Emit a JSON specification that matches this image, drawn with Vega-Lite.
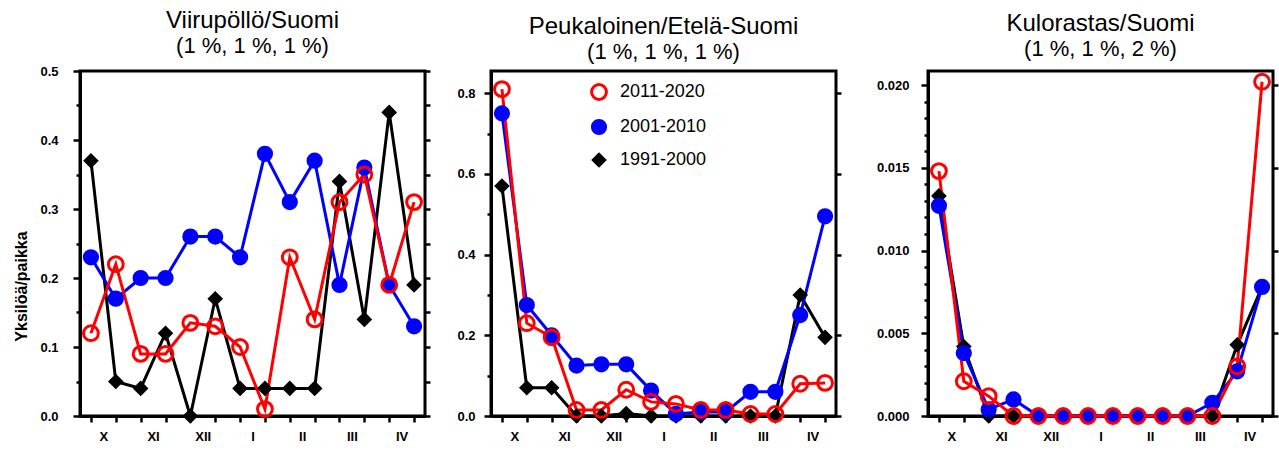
{
  "$schema": "https://vega.github.io/schema/vega-lite/v6.json",
  "padding": {"left": 12, "top": 7, "right": 0, "bottom": 0},
  "spacing": 30,
  "config": {
    "font": "Liberation Sans",
    "view": {"stroke": "black", "strokeWidth": 3},
    "axis": {"domainColor": "black", "domainWidth": 3, "tickColor": "black", "tickWidth": 2.5, "labelColor": "black", "labelFontWeight": "bold", "labelFontSize": 13, "grid": false, "titleColor": "black", "titleFontSize": 16, "titleFontWeight": "bold"},
    "title": {"fontSize": 24, "fontWeight": "normal", "subtitleFontSize": 22, "subtitleColor": "black", "color": "black", "anchor": "middle", "offset": 8, "subtitlePadding": 0, "subtitleFont": "Liberation Sans"}
  },
  "data": {"values": [
    {"p":"A","s":"1991-2000","x":1,"v":0.37},{"p":"A","s":"1991-2000","x":2,"v":0.05},{"p":"A","s":"1991-2000","x":3,"v":0.04},{"p":"A","s":"1991-2000","x":4,"v":0.12},{"p":"A","s":"1991-2000","x":5,"v":0.0},{"p":"A","s":"1991-2000","x":6,"v":0.17},{"p":"A","s":"1991-2000","x":7,"v":0.04},{"p":"A","s":"1991-2000","x":8,"v":0.04},{"p":"A","s":"1991-2000","x":9,"v":0.04},{"p":"A","s":"1991-2000","x":10,"v":0.04},{"p":"A","s":"1991-2000","x":11,"v":0.34},{"p":"A","s":"1991-2000","x":12,"v":0.14},{"p":"A","s":"1991-2000","x":13,"v":0.44},{"p":"A","s":"1991-2000","x":14,"v":0.19},
    {"p":"A","s":"2001-2010","x":1,"v":0.23},{"p":"A","s":"2001-2010","x":2,"v":0.17},{"p":"A","s":"2001-2010","x":3,"v":0.2},{"p":"A","s":"2001-2010","x":4,"v":0.2},{"p":"A","s":"2001-2010","x":5,"v":0.26},{"p":"A","s":"2001-2010","x":6,"v":0.26},{"p":"A","s":"2001-2010","x":7,"v":0.23},{"p":"A","s":"2001-2010","x":8,"v":0.38},{"p":"A","s":"2001-2010","x":9,"v":0.31},{"p":"A","s":"2001-2010","x":10,"v":0.37},{"p":"A","s":"2001-2010","x":11,"v":0.19},{"p":"A","s":"2001-2010","x":12,"v":0.36},{"p":"A","s":"2001-2010","x":13,"v":0.19},{"p":"A","s":"2001-2010","x":14,"v":0.13},
    {"p":"A","s":"2011-2020","x":1,"v":0.12},{"p":"A","s":"2011-2020","x":2,"v":0.22},{"p":"A","s":"2011-2020","x":3,"v":0.09},{"p":"A","s":"2011-2020","x":4,"v":0.09},{"p":"A","s":"2011-2020","x":5,"v":0.135},{"p":"A","s":"2011-2020","x":6,"v":0.13},{"p":"A","s":"2011-2020","x":7,"v":0.1},{"p":"A","s":"2011-2020","x":8,"v":0.01},{"p":"A","s":"2011-2020","x":9,"v":0.23},{"p":"A","s":"2011-2020","x":10,"v":0.14},{"p":"A","s":"2011-2020","x":11,"v":0.31},{"p":"A","s":"2011-2020","x":12,"v":0.35},{"p":"A","s":"2011-2020","x":13,"v":0.19},{"p":"A","s":"2011-2020","x":14,"v":0.31},
    {"p":"B","s":"1991-2000","x":1,"v":0.57},{"p":"B","s":"1991-2000","x":2,"v":0.07},{"p":"B","s":"1991-2000","x":3,"v":0.07},{"p":"B","s":"1991-2000","x":4,"v":0.0},{"p":"B","s":"1991-2000","x":5,"v":0.0},{"p":"B","s":"1991-2000","x":6,"v":0.006},{"p":"B","s":"1991-2000","x":7,"v":0.0},{"p":"B","s":"1991-2000","x":8,"v":0.0},{"p":"B","s":"1991-2000","x":9,"v":0.0},{"p":"B","s":"1991-2000","x":10,"v":0.0},{"p":"B","s":"1991-2000","x":11,"v":0.0},{"p":"B","s":"1991-2000","x":12,"v":0.0},{"p":"B","s":"1991-2000","x":13,"v":0.3},{"p":"B","s":"1991-2000","x":14,"v":0.195},
    {"p":"B","s":"2001-2010","x":1,"v":0.75},{"p":"B","s":"2001-2010","x":2,"v":0.275},{"p":"B","s":"2001-2010","x":3,"v":0.2},{"p":"B","s":"2001-2010","x":4,"v":0.125},{"p":"B","s":"2001-2010","x":5,"v":0.128},{"p":"B","s":"2001-2010","x":6,"v":0.128},{"p":"B","s":"2001-2010","x":7,"v":0.063},{"p":"B","s":"2001-2010","x":8,"v":0.005},{"p":"B","s":"2001-2010","x":9,"v":0.01},{"p":"B","s":"2001-2010","x":10,"v":0.01},{"p":"B","s":"2001-2010","x":11,"v":0.06},{"p":"B","s":"2001-2010","x":12,"v":0.06},{"p":"B","s":"2001-2010","x":13,"v":0.25},{"p":"B","s":"2001-2010","x":14,"v":0.495},
    {"p":"B","s":"2011-2020","x":1,"v":0.81},{"p":"B","s":"2011-2020","x":2,"v":0.23},{"p":"B","s":"2011-2020","x":3,"v":0.195},{"p":"B","s":"2011-2020","x":4,"v":0.015},{"p":"B","s":"2011-2020","x":5,"v":0.015},{"p":"B","s":"2011-2020","x":6,"v":0.065},{"p":"B","s":"2011-2020","x":7,"v":0.035},{"p":"B","s":"2011-2020","x":8,"v":0.03},{"p":"B","s":"2011-2020","x":9,"v":0.015},{"p":"B","s":"2011-2020","x":10,"v":0.015},{"p":"B","s":"2011-2020","x":11,"v":0.005},{"p":"B","s":"2011-2020","x":12,"v":0.005},{"p":"B","s":"2011-2020","x":13,"v":0.08},{"p":"B","s":"2011-2020","x":14,"v":0.082},
    {"p":"C","s":"1991-2000","x":1,"v":0.0133},{"p":"C","s":"1991-2000","x":2,"v":0.0042},{"p":"C","s":"1991-2000","x":3,"v":0.0},{"p":"C","s":"1991-2000","x":4,"v":0.0},{"p":"C","s":"1991-2000","x":5,"v":0.0},{"p":"C","s":"1991-2000","x":6,"v":0.0},{"p":"C","s":"1991-2000","x":7,"v":0.0},{"p":"C","s":"1991-2000","x":8,"v":0.0},{"p":"C","s":"1991-2000","x":9,"v":0.0},{"p":"C","s":"1991-2000","x":10,"v":0.0},{"p":"C","s":"1991-2000","x":11,"v":0.0},{"p":"C","s":"1991-2000","x":12,"v":0.0},{"p":"C","s":"1991-2000","x":13,"v":0.0043},{"p":"C","s":"1991-2000","x":14,"v":0.0078},
    {"p":"C","s":"2001-2010","x":1,"v":0.0127},{"p":"C","s":"2001-2010","x":2,"v":0.0038},{"p":"C","s":"2001-2010","x":3,"v":0.0004},{"p":"C","s":"2001-2010","x":4,"v":0.001},{"p":"C","s":"2001-2010","x":5,"v":0.0},{"p":"C","s":"2001-2010","x":6,"v":0.0},{"p":"C","s":"2001-2010","x":7,"v":0.0},{"p":"C","s":"2001-2010","x":8,"v":0.0},{"p":"C","s":"2001-2010","x":9,"v":0.0},{"p":"C","s":"2001-2010","x":10,"v":0.0},{"p":"C","s":"2001-2010","x":11,"v":0.0},{"p":"C","s":"2001-2010","x":12,"v":0.0008},{"p":"C","s":"2001-2010","x":13,"v":0.0027},{"p":"C","s":"2001-2010","x":14,"v":0.0078},
    {"p":"C","s":"2011-2020","x":1,"v":0.0148},{"p":"C","s":"2011-2020","x":2,"v":0.0021},{"p":"C","s":"2011-2020","x":3,"v":0.0012},{"p":"C","s":"2011-2020","x":4,"v":0.0},{"p":"C","s":"2011-2020","x":5,"v":0.0},{"p":"C","s":"2011-2020","x":6,"v":0.0},{"p":"C","s":"2011-2020","x":7,"v":0.0},{"p":"C","s":"2011-2020","x":8,"v":0.0},{"p":"C","s":"2011-2020","x":9,"v":0.0},{"p":"C","s":"2011-2020","x":10,"v":0.0},{"p":"C","s":"2011-2020","x":11,"v":0.0},{"p":"C","s":"2011-2020","x":12,"v":0.0},{"p":"C","s":"2011-2020","x":13,"v":0.003},{"p":"C","s":"2011-2020","x":14,"v":0.0202}
  ]},
  "resolve": {"scale": {"y": "independent", "stroke": "independent", "fill": "independent", "shape": "independent", "size": "independent"}},
  "hconcat": [
    {
      "spacing": 22,
      "resolve": {"scale": {"y": "independent", "stroke": "independent", "fill": "independent", "shape": "independent", "size": "independent"}},
      "hconcat": [
        {
          "width": 345, "height": 345,
          "title": {"text": "Viirupöllö/Suomi", "subtitle": "(1 %, 1 %, 1 %)"},
          "transform": [{"filter": "datum.p == 'A'"}],
          "encoding": {"x": {"field": "x", "type": "quantitative", "scale": {"domain": [0.56, 14.44], "nice": false, "zero": false}, "axis": {"title": null, "values": [1,2,3,4,5,6,7,8,9,10,11,12,13,14], "labelExpr": "['X','','XI','','XII','','I','','II','','III','','IV',''][datum.value-1]", "labelOffset": 12.4, "labelOverlap": false, "labelFontSize": 13, "tickSize": 6, "labelPadding": 8}}},
          "layer": [
            {"mark": {"type": "line", "strokeWidth": 3},
             "encoding": {
               "y": {"field": "v", "type": "quantitative", "scale": {"domain": [0, 0.5], "nice": false}, "axis": {"title": "Yksilöä/paikka", "titleFontSize": 16, "titleFontWeight": "bold", "titlePadding": 10, "titleY": 215, "labelPadding": 15, "values": [0,0.05,0.1,0.15,0.2,0.25,0.3,0.35,0.4,0.45,0.5], "labelExpr": "abs(datum.value*10-round(datum.value*10))<1e-6 ? format(datum.value,'.1f') : ''", "tickSize": {"condition": {"test": "abs(datum.value*10-round(datum.value*10))>1e-6", "value": 4}, "value": 7}}},
               "stroke": {"field": "s", "type": "ordinal", "scale": {"domain": ["2011-2020","2001-2010","1991-2000"], "range": ["#ff0000","#0000ff","#000000"]}, "legend": null}
             }},
            {"mark": {"type": "point", "strokeWidth": 3, "opacity": 1},
             "encoding": {
               "y": {"field": "v", "type": "quantitative", "axis": {"orient": "right", "title": null, "labels": false, "domain": false, "values": [0,0.05,0.1,0.15,0.2,0.25,0.3,0.35,0.4,0.45,0.5], "tickSize": 5}},
               "stroke": {"field": "s", "type": "ordinal", "scale": {"domain": ["2011-2020","2001-2010","1991-2000"], "range": ["#ff0000","#0000ff","#000000"]}, "legend": null},
               "fill": {"field": "s", "type": "ordinal", "scale": {"domain": ["2011-2020","2001-2010","1991-2000"], "range": ["transparent","#0000ff","#000000"]}, "legend": null},
               "shape": {"field": "s", "type": "ordinal", "scale": {"domain": ["2011-2020","2001-2010","1991-2000"], "range": ["circle","circle","diamond"]}, "legend": null},
               "size": {"field": "s", "type": "ordinal", "scale": {"domain": ["2011-2020","2001-2010","1991-2000"], "range": [220, 130, 45]}, "legend": null}
             }}
          ],
          "resolve": {"axis": {"y": "independent"}}
        },
        {
          "width": 345, "height": 345,
          "title": {"text": "Peukaloinen/Etelä-Suomi", "subtitle": "(1 %, 1 %, 1 %)"},
          "transform": [{"filter": "datum.p == 'B'"}],
          "encoding": {"x": {"field": "x", "type": "quantitative", "scale": {"domain": [0.56, 14.44], "nice": false, "zero": false}, "axis": {"title": null, "values": [1,2,3,4,5,6,7,8,9,10,11,12,13,14], "labelExpr": "['X','','XI','','XII','','I','','II','','III','','IV',''][datum.value-1]", "labelOffset": 12.4, "labelOverlap": false, "labelFontSize": 13, "tickSize": 6, "labelPadding": 8}}},
          "layer": [
            {"mark": {"type": "line", "strokeWidth": 3},
             "encoding": {
               "y": {"field": "v", "type": "quantitative", "scale": {"domain": [0, 0.855], "nice": false}, "axis": {"title": null, "labelPadding": 9, "values": [0,0.1,0.2,0.3,0.4,0.5,0.6,0.7,0.8], "labelExpr": "abs(datum.value*5-round(datum.value*5))<1e-6 ? format(datum.value,'.1f') : ''", "tickSize": {"condition": {"test": "abs(datum.value*5-round(datum.value*5))>1e-6", "value": 4}, "value": 7}}},
               "stroke": {"field": "s", "type": "ordinal", "scale": {"domain": ["2011-2020","2001-2010","1991-2000"], "range": ["#ff0000","#0000ff","#000000"]}, "legend": {"orient": "none", "legendX": 99, "legendY": 12, "title": null, "labelFontSize": 18, "labelFont": "Liberation Sans", "labelColor": "black", "symbolStrokeWidth": 3, "rowPadding": 8, "labelOffset": 12, "padding": 0}}
             }},
            {"mark": {"type": "point", "strokeWidth": 3, "opacity": 1},
             "encoding": {
               "y": {"field": "v", "type": "quantitative", "axis": {"orient": "right", "title": null, "labels": false, "domain": false, "values": [0,0.2,0.4,0.6,0.8], "tickSize": 5}},
               "stroke": {"field": "s", "type": "ordinal", "scale": {"domain": ["2011-2020","2001-2010","1991-2000"], "range": ["#ff0000","#0000ff","#000000"]}, "legend": {"orient": "none", "legendX": 99, "legendY": 12, "title": null, "labelFontSize": 18, "labelFont": "Liberation Sans", "labelColor": "black", "symbolStrokeWidth": 3, "rowPadding": 8, "labelOffset": 12, "padding": 0}},
               "fill": {"field": "s", "type": "ordinal", "scale": {"domain": ["2011-2020","2001-2010","1991-2000"], "range": ["transparent","#0000ff","#000000"]}, "legend": {"orient": "none", "legendX": 99, "legendY": 12, "title": null, "labelFontSize": 18, "labelFont": "Liberation Sans", "labelColor": "black", "symbolStrokeWidth": 3, "rowPadding": 8, "labelOffset": 12, "padding": 0}},
               "shape": {"field": "s", "type": "ordinal", "scale": {"domain": ["2011-2020","2001-2010","1991-2000"], "range": ["circle","circle","diamond"]}, "legend": {"orient": "none", "legendX": 99, "legendY": 12, "title": null, "labelFontSize": 18, "labelFont": "Liberation Sans", "labelColor": "black", "symbolStrokeWidth": 3, "rowPadding": 8, "labelOffset": 12, "padding": 0}},
               "size": {"field": "s", "type": "ordinal", "scale": {"domain": ["2011-2020","2001-2010","1991-2000"], "range": [220, 130, 45]}, "legend": {"orient": "none", "legendX": 99, "legendY": 12, "title": null, "labelFontSize": 18, "labelFont": "Liberation Sans", "labelColor": "black", "symbolStrokeWidth": 3, "rowPadding": 8, "labelOffset": 12, "padding": 0}}
             }}
          ],
          "resolve": {"axis": {"y": "independent"}}
        }
      ]
    },
    {
      "width": 345, "height": 345,
      "title": {"text": "Kulorastas/Suomi", "subtitle": "(1 %, 1 %, 2 %)"},
      "transform": [{"filter": "datum.p == 'C'"}],
      "encoding": {"x": {"field": "x", "type": "quantitative", "scale": {"domain": [0.56, 14.44], "nice": false, "zero": false}, "axis": {"title": null, "values": [1,2,3,4,5,6,7,8,9,10,11,12,13,14], "labelExpr": "['X','','XI','','XII','','I','','II','','III','','IV',''][datum.value-1]", "labelOffset": 12.4, "labelOverlap": false, "labelFontSize": 13, "tickSize": 6, "labelPadding": 8}}},
      "layer": [
        {"mark": {"type": "line", "strokeWidth": 3},
         "encoding": {
           "y": {"field": "v", "type": "quantitative", "scale": {"domain": [0, 0.02085], "nice": false}, "axis": {"title": null, "labelPadding": 12, "values": [0,0.001,0.002,0.003,0.004,0.005,0.006,0.007,0.008,0.009,0.01,0.011,0.012,0.013,0.014,0.015,0.016,0.017,0.018,0.019,0.02], "labelExpr": "abs(datum.value*200-round(datum.value*200))<1e-6 ? format(datum.value,'.3f') : ''", "tickSize": {"condition": {"test": "abs(datum.value*200-round(datum.value*200))>1e-6", "value": 4}, "value": 7}}},
           "stroke": {"field": "s", "type": "ordinal", "scale": {"domain": ["2011-2020","2001-2010","1991-2000"], "range": ["#ff0000","#0000ff","#000000"]}, "legend": null}
         }},
        {"mark": {"type": "point", "strokeWidth": 3, "opacity": 1},
         "encoding": {
           "y": {"field": "v", "type": "quantitative", "axis": {"orient": "right", "title": null, "labels": false, "domain": false, "values": [0,0.005,0.01,0.015,0.02], "tickSize": 5}},
           "stroke": {"field": "s", "type": "ordinal", "scale": {"domain": ["2011-2020","2001-2010","1991-2000"], "range": ["#ff0000","#0000ff","#000000"]}, "legend": null},
           "fill": {"field": "s", "type": "ordinal", "scale": {"domain": ["2011-2020","2001-2010","1991-2000"], "range": ["transparent","#0000ff","#000000"]}, "legend": null},
           "shape": {"field": "s", "type": "ordinal", "scale": {"domain": ["2011-2020","2001-2010","1991-2000"], "range": ["circle","circle","diamond"]}, "legend": null},
           "size": {"field": "s", "type": "ordinal", "scale": {"domain": ["2011-2020","2001-2010","1991-2000"], "range": [220, 130, 45]}, "legend": null}
         }}
      ],
      "resolve": {"axis": {"y": "independent"}}
    }
  ]
}
